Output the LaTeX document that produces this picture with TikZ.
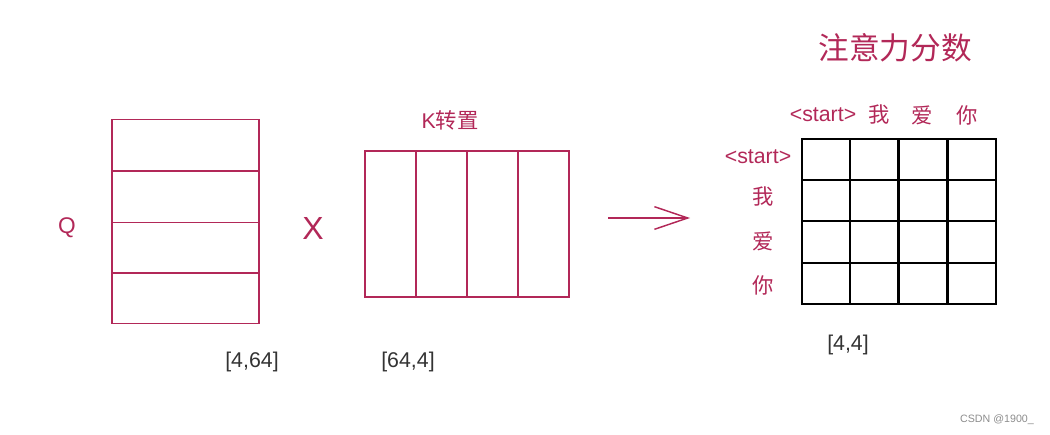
\documentclass[tikz,border=0pt]{standalone}
\usepackage{fontspec}
\setmainfont{Liberation Sans}
\newfontfamily\cjk{Noto Sans CJK SC}
\usetikzlibrary{arrows.meta}
\definecolor{rose}{RGB}{178,40,88}
\definecolor{ink}{RGB}{51,51,51}
\tikzset{
  qrow/.style = {draw=rose, line width=1.1pt, inner sep=0,
                 minimum width=110pt, minimum height=38pt},
  kcol/.style = {draw=rose, line width=1.1pt, inner sep=0,
                 minimum width=38.25pt, minimum height=109.5pt},
  cell/.style = {draw=black, line width=1.4pt, inner sep=0,
                 minimum width=36.4pt, minimum height=30.9pt},
  tag/.style  = {text=rose, inner sep=0, font=\fontsize{16}{18}\selectfont},
  dims/.style = {text=ink, inner sep=0, font=\fontsize{16}{18}\selectfont},
}
\begin{document}
\begin{tikzpicture}[x=0.75pt,y=-0.75pt]
    \useasboundingbox (0,0) rectangle (1050,435);
    % Q
    \foreach \y [count=\i] in {145,197,248,298}
      \node[qrow] (q\i) at (185.5,\y) {};
    \node[tag, font=\fontsize{17}{19}\selectfont] (qname) at (67,228) {Q};
    \node[tag, font=\fontsize{24}{26}\selectfont] (times) at (313,228) {X};
    \node[dims] (qdim) at (252,362) {[4,64]};
    % K^T
    \foreach \x [count=\i] in {390.5,441.5,492.5,543.5}
      \node[kcol] (k\i) at (\x,224) {};
    \node[tag] (kname) at (450,120) {K\cjk 转置};
    \node[dims] (kdim) at (408,362) {[64,4]};
    % arrow
    \coordinate (from) at (608,218);
    \coordinate (to) at (690,218);
    \draw[rose, line width=1.1pt, -{Straight Barb[length=25pt,width=17pt]}] (from) -- (to);
    % scores
    \node[tag, font=\fontsize{23}{25}\selectfont\cjk] (title) at (895,48) {注意力分数};
    \foreach \r [count=\i] in {159.5,200.5,242,283.5}
      \foreach \c [count=\j] in {826,874,923,972}
        \node[cell] (s\i\j) at (\c,\r) {};
    \node[tag] (c1) at (823,115) {<start>};
    \node[tag] (c2) at (879,115) {\cjk 我};
    \node[tag] (c3) at (922,115) {\cjk 爱};
    \node[tag] (c4) at (967,115) {\cjk 你};
    \node[tag] (r1) at (758,157) {<start>};
    \node[tag] (r2) at (763,197) {\cjk 我};
    \node[tag] (r3) at (763,241) {\cjk 爱};
    \node[tag] (r4) at (763,285) {\cjk 你};
    \node[dims] (sdim) at (848,345) {[4,4]};
    \node[text=black!45, inner sep=0, font=\fontsize{8}{10}\selectfont] (mark) at (997,420) {CSDN @1900\_};
\end{tikzpicture}
\end{document}
